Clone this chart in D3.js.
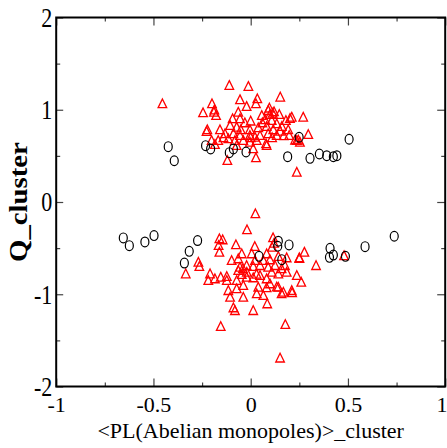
<!DOCTYPE html>
<html>
<head>
<meta charset="utf-8">
<script src="https://cdn.jsdelivr.net/npm/d3@7"></script>
<style>
html,body{margin:0;padding:0;background:#fff;}
svg{display:block;}
</style>
</head>
<body>
<svg id="chart" width="447" height="448"></svg>
<script>
// ---- data ----
const xTicks = [-1, -0.5, 0, 0.5, 1];
const xTickLabels = ["-1", "-0.5", "0", "0.5", "1"];
const yTicks = [-2, -1, 0, 1, 2];
const yTickLabels = ["-2", "-1", "0", "1", "2"];
const xMinorTicks = [-0.75, -0.25, 0.25, 0.75];
const yMinorTicks = [-1.5, -0.5, 0.5, 1.5];
const xTitle = "<PL(Abelian monopoles)>_cluster";
const yTitle = "Q_cluster";

// black circles
const circleX = [-0.424,-0.393,-0.232,-0.206,-0.110,-0.089,-0.024,0.190,0.249,0.305,0.353,0.391,0.425,0.443,0.506,
  -0.655,-0.624,-0.544,-0.497,-0.273,-0.316,-0.341,0.142,0.139,0.197,0.043,0.160,0.408,0.425,0.405,0.487,0.588,0.738];
const circleY = [0.600,0.447,0.611,0.575,0.535,0.575,0.542,0.491,0.702,0.473,0.520,0.502,0.491,0.502,0.680,
  -0.389,-0.473,-0.433,-0.364,-0.418,-0.535,-0.662,-0.425,-0.480,-0.465,-0.589,-0.625,-0.502,-0.575,-0.600,-0.589,-0.484,-0.371];

// red triangles
const triX = [
  -0.454,-0.110,-0.012,-0.055,0.034,0.152,-0.199,-0.245,-0.189,-0.178,-0.021,0.027,-0.064,-0.093,-0.055,0.000,0.057,0.090,0.099,0.113,
  0.147,0.074,0.108,0.134,0.181,0.211,0.202,0.270,-0.223,-0.227,-0.158,-0.106,-0.072,-0.051,-0.004,0.039,0.082,0.116,0.151,0.193,
  -0.132,-0.089,-0.055,-0.004,0.022,0.048,0.090,0.134,0.198,0.296,-0.201,-0.167,-0.115,-0.081,-0.038,-0.004,0.031,0.079,0.082,0.237,
  0.253,-0.120,0.027,0.237,-0.184,-0.072,0.013,-0.187,0.096,0.120,0.060,-0.030,0.160,0.170,-0.140,0.000,0.110,0.228,0.245,
  0.024,-0.019,-0.161,-0.144,-0.165,-0.161,-0.076,0.021,0.115,0.120,0.110,-0.046,0.005,0.082,-0.098,-0.064,0.022,0.065,0.099,0.142,
  0.185,0.250,0.276,0.336,-0.269,-0.264,-0.334,-0.055,-0.021,0.013,0.048,0.090,0.125,0.159,0.176,-0.209,-0.218,-0.184,-0.154,-0.123,
  -0.123,-0.064,-0.046,-0.021,0.013,0.048,0.082,0.108,0.142,0.185,0.237,0.260,-0.072,-0.038,-0.072,-0.115,-0.106,-0.038,0.031,0.065,
  0.039,0.082,0.099,0.142,0.168,0.159,0.211,-0.089,-0.081,0.013,0.085,-0.154,0.178,0.151,-0.040,-0.020,0.030,0.480,0.134,0.213,0.250];
const triY = [
  1.067,1.266,1.255,1.111,1.121,1.139,1.067,0.970,0.976,0.940,1.038,1.067,0.976,0.905,0.905,0.879,0.940,0.995,0.951,0.965,
  0.951,0.894,0.886,0.850,0.886,0.922,0.908,0.922,0.785,0.767,0.785,0.832,0.813,0.785,0.785,0.807,0.821,0.785,0.770,0.785,
  0.742,0.742,0.723,0.723,0.705,0.723,0.742,0.723,0.723,0.734,0.669,0.669,0.688,0.669,0.669,0.651,0.669,0.633,0.615,0.669,
  0.651,0.452,0.482,0.325,0.626,0.615,0.579,1.000,1.020,0.980,0.860,0.860,0.820,0.720,0.700,0.700,0.700,0.673,0.673,
  -0.126,-0.299,-0.397,-0.408,-0.470,-0.542,-0.462,-0.480,-0.386,-0.445,-0.488,-0.560,-0.560,-0.560,-0.632,-0.614,-0.632,-0.632,-0.625,-0.589,
  -0.603,-0.603,-0.542,-0.687,-0.651,-0.697,-0.777,-0.705,-0.687,-0.697,-0.687,-0.705,-0.687,-0.722,-0.687,-0.777,-0.849,-0.831,-0.813,-0.806,
  -0.849,-0.741,-0.784,-0.813,-0.820,-0.795,-0.831,-0.759,-0.777,-0.759,-0.795,-0.868,-0.849,-0.903,-0.939,-0.958,-1.030,-1.030,-0.993,-1.012,
  -0.922,-0.928,-0.885,-0.922,-0.976,-0.993,-0.958,-1.145,-1.175,-1.175,-1.102,-1.348,-1.326,-1.690,-0.720,-0.760,-0.780,-0.580,-0.920,-0.982,-0.611];

// ---- layout ----
const L = 56.2, R = 445.2, T = 17.5, B = 386.5;
const x = d3.scaleLinear().domain([-1, 1]).range([L, R]);
const y = d3.scaleLinear().domain([-2, 2]).range([B, T]);
const svg = d3.select("#chart");
const serif = "Liberation Serif";

function axisGroup(gen, tx, ty) {
  return svg.append("g").attr("transform", `translate(${tx},${ty})`).call(gen);
}
const tickStroke = "#444";
const mkX = (fn, vals, size) => fn(x).tickValues(vals).tickSize(size).tickFormat("");
const mkY = (fn, vals, size) => fn(y).tickValues(vals).tickSize(size).tickFormat("");
const gs = [
  axisGroup(mkX(d3.axisBottom, xMinorTicks, -4), 0, B),
  axisGroup(mkX(d3.axisTop, xMinorTicks, -4), 0, T),
  axisGroup(mkY(d3.axisLeft, yMinorTicks, -4), L, 0),
  axisGroup(mkY(d3.axisRight, yMinorTicks, -4), R, 0),
  axisGroup(mkX(d3.axisTop, xTicks, -8), 0, T),
  axisGroup(mkY(d3.axisRight, yTicks, -8), R, 0)
];

// major ticks with labels
const gx = axisGroup(d3.axisBottom(x).tickValues(xTicks).tickSize(-8).tickPadding(10)
  .tickFormat((d, i) => xTickLabels[i]), 0, B);
const gy = axisGroup(d3.axisLeft(y).tickValues(yTicks).tickSize(-7).tickPadding(4)
  .tickFormat((d, i) => yTickLabels[i]), L, 0);
gs.push(gx, gy);
gs.forEach(g => {
  g.attr("font-family", null).attr("font-size", null);
  g.select(".domain").remove();
  g.selectAll(".tick line").attr("stroke", tickStroke).attr("stroke-width", 1.2);
});
gx.selectAll(".tick text").style("font-family", serif).style("font-size", "22px").attr("fill", "#000");
// last label sits at the right edge: keep it inside the picture
gx.selectAll(".tick text").filter((d, i) => i === xTicks.length - 1)
  .attr("text-anchor", "end").attr("x", 447 - R);
gy.selectAll(".tick text").style("font-family", serif).style("font-size", "22px")
  .attr("fill", "#000").attr("transform", "scale(1,1.25)");

// data marks
const circles = circleX.map((v, i) => ({x: v, y: circleY[i]}));
const tris = triX.map((v, i) => ({x: v, y: triY[i]}));
const triPath = "M0,-4.6L4.3,4.1L-4.3,4.1Z";

svg.append("g").selectAll("path").data(tris).join("path")
  .attr("d", triPath)
  .attr("transform", d => `translate(${x(d.x)},${y(d.y)})`)
  .attr("fill", "none").attr("stroke", "#ff0000").attr("stroke-width", 1.3);

svg.append("g").selectAll("ellipse").data(circles).join("ellipse")
  .attr("cx", d => x(d.x)).attr("cy", d => y(d.y))
  .attr("rx", 4).attr("ry", 4.9)
  .attr("fill", "none").attr("stroke", "#000").attr("stroke-width", 1.2);

// frame
svg.append("rect").attr("x", L).attr("y", T).attr("width", R - L).attr("height", B - T)
  .attr("fill", "none").attr("stroke", "#000").attr("stroke-width", 2);

// titles
svg.append("text").attr("x", (L + R) / 2).attr("y", 438)
  .attr("text-anchor", "middle").style("font-family", serif).style("font-size", "22px")
  .text(xTitle);
svg.append("text")
  .attr("transform", `translate(27,${(T + B) / 2}) rotate(-90) scale(1.15,1)`)
  .attr("text-anchor", "middle").style("font-family", serif).style("font-size", "25px")
  .style("font-weight", "bold")
  .text(yTitle);
</script>
</body>
</html>
